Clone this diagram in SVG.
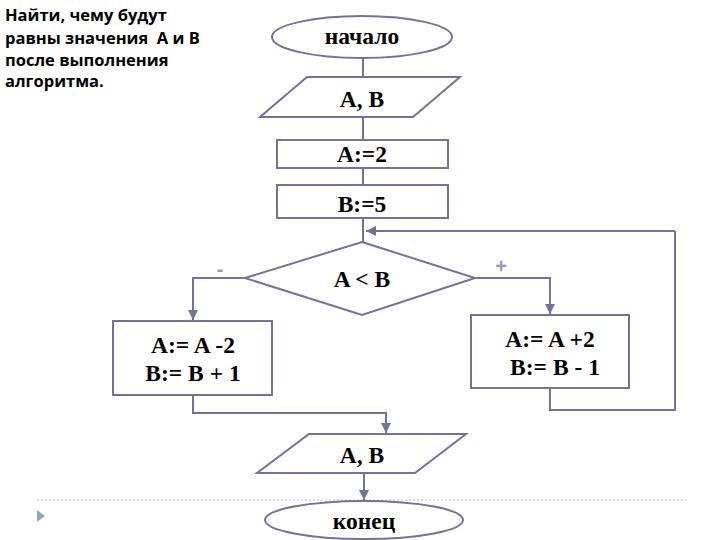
<svg xmlns="http://www.w3.org/2000/svg" width="720" height="540" viewBox="0 0 720 540">
<style>
.s{fill:#fff;stroke:#72729E;stroke-width:2}
.c{fill:none;stroke:#72729E;stroke-width:2}
.t{font-family:"Liberation Serif",serif;font-weight:bold;font-size:23.5px;fill:#000;text-anchor:middle}
.h{font-family:"Open Sans","Liberation Sans",sans-serif;font-weight:bold;font-size:16.5px;fill:#000}
.pm{font-family:"Liberation Sans",sans-serif;font-weight:bold;font-size:20px;fill:#A093CC;text-anchor:middle}
</style>
<defs>
<marker id="a" viewBox="0 0 10 10" refX="10" refY="5" markerWidth="5" markerHeight="5" orient="auto" markerUnits="strokeWidth">
<path d="M0,0 L10,5 L0,10 z" fill="#72729E"/>
</marker>
</defs>
<rect width="720" height="540" fill="#fff"/>
<g id="title">
<text class="h" x="5" y="21">Найти, чему будут</text>
<text class="h" x="5" y="44">равны значения&#160; А и В</text>
<text class="h" x="5" y="66">после выполнения</text>
<text class="h" x="5" y="87">алгоритма.</text>
</g>
<g id="connectors">
<path class="c" d="M363,58 V77"/>
<path class="c" d="M363,117 V140"/>
<path class="c" d="M363,168 V185"/>
<path class="c" d="M363,218 V242"/>
<path class="c" d="M675,231 H366" marker-end="url(#a)"/>
<path class="c" d="M550,388 V410 H675 V231"/>
<path class="c" d="M245,278 H193 V320" marker-end="url(#a)"/>
<path class="c" d="M475,278 H550 V314" marker-end="url(#a)"/>
<path class="c" d="M193,395 V413 H386 V433" marker-end="url(#a)"/>
<path class="c" d="M364,473 V500" marker-end="url(#a)"/>
</g>
<g id="start">
<ellipse class="s" cx="362" cy="37" rx="90" ry="21"/>
<text class="t" x="362" y="44">начало</text>
</g>
<g id="input">
<polygon class="s" points="307,77 460,77 413,117 260,117"/>
<text class="t" x="362" y="107">A, B</text>
</g>
<g id="a2">
<rect class="s" x="277" y="140" width="171" height="28"/>
<text class="t" x="362" y="162">A:=2</text>
</g>
<g id="b5">
<rect class="s" x="277" y="185" width="171" height="33"/>
<text class="t" x="362" y="212">B:=5</text>
</g>
<g id="cond">
<polygon class="s" points="362,242 475,278 362,315 245,278"/>
<text class="t" x="362" y="287">A &lt; B</text>
<text class="pm" x="220" y="276">-</text>
<text class="pm" x="501" y="273">+</text>
</g>
<g id="minus">
<rect class="s" x="113" y="321" width="159" height="74"/>
<text class="t" x="193" y="353">A:= A -2</text>
<text class="t" x="193" y="381">B:= B + 1</text>
</g>
<g id="plus">
<rect class="s" x="471" y="315" width="158" height="73"/>
<text class="t" x="550" y="347">A:= A +2</text>
<text class="t" x="555" y="375">B:= B - 1</text>
</g>
<g id="output">
<polygon class="s" points="309,434 466,434 415,473 257,473"/>
<text class="t" x="362" y="463">A, B</text>
</g>
<line x1="37" y1="500" x2="686" y2="500" stroke="#B8B8B8" stroke-width="1" stroke-dasharray="2,2"/>
<polygon points="37,510 45,516 37,522" fill="#8FA7C4"/>
<g id="end">
<ellipse class="s" cx="364" cy="520" rx="99" ry="19"/>
<text class="t" x="364" y="529">конец</text>
</g>
</svg>
